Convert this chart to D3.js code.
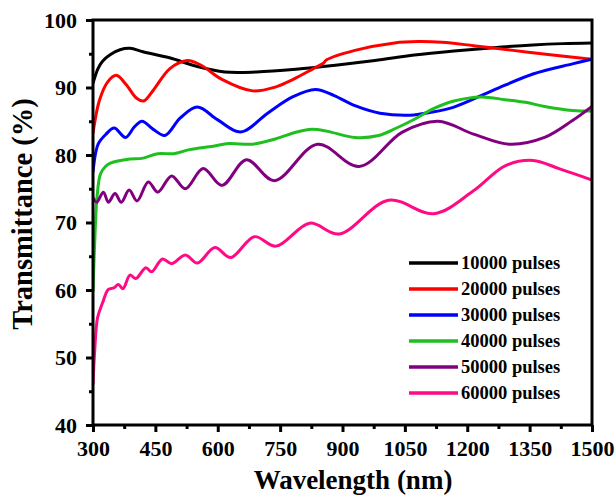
<!DOCTYPE html>
<html>
 <head>
  <title>Transmittance</title>
  <style>
  body { margin: 0; background: #fff; }
  </style>
 </head>
 <body>
  <script src="https://cdnjs.cloudflare.com/ajax/libs/d3/7.8.3/d3.min.js"></script>
  <script>
   const seriesNames = ["10000 pulses", "20000 pulses", "30000 pulses", "40000 pulses", "50000 pulses", "60000 pulses"];
   const seriesColors = ["#000000", "#ff0000", "#0000ff", "#1fbf1f", "#800080", "#ff0a84"];
   const xTicks = [300, 450, 600, 750, 900, 1050, 1200, 1350, 1500];
   const yTicks = [40, 50, 60, 70, 80, 90, 100];

   // [wavelength, transmittance]
   const s10000 = [[300,90.6],[312,92.8],[323,93.9],[342,94.9],[365,95.6],[389,95.8],[420,95.3],[484,94.4],[551,93.1],[617,92.3],[693,92.3],[788,92.7],[883,93.3],[978,94.0],[1073,94.8],[1168,95.4],[1263,95.9],[1358,96.3],[1430,96.5],[1500,96.6]];
   const s20000 = [[300,83.2],[315,88.0],[335,90.8],[356,91.8],[380,90.4],[405,88.4],[422,88.0],[445,89.6],[485,92.8],[527,94.0],[560,93.3],[610,91.2],[684,89.5],[740,90.1],[778,91.1],[830,92.8],[854,93.6],[862,94.1],[930,95.5],[1025,96.6],[1082,96.8],[1139,96.7],[1215,96.2],[1310,95.5],[1405,94.8],[1500,94.2]];
   const s30000 = [[300,77.5],[306,80.2],[313,81.7],[330,83.0],[351,84.0],[378,82.6],[400,84.2],[418,85.0],[445,83.8],[473,82.9],[510,85.5],[551,87.1],[600,85.2],[655,83.4],[720,86.2],[780,88.6],[835,89.7],[880,88.8],[930,87.3],[990,86.2],[1063,85.9],[1110,86.3],[1168,87.1],[1263,89.6],[1358,92.0],[1453,93.5],[1500,94.2]];
   const s40000 = [[300,59.8],[305,68.5],[310,74.0],[318,77.2],[330,78.3],[342,78.8],[389,79.4],[418,79.5],[456,80.2],[494,80.2],[532,80.8],[589,81.3],[627,81.7],[684,81.6],[740,82.4],[790,83.4],[826,83.8],[864,83.5],[930,82.6],[987,82.9],[1030,84.0],[1073,85.3],[1120,86.9],[1168,88.0],[1234,88.6],[1291,88.2],[1340,87.8],[1386,87.2],[1453,86.6],[1500,86.5]];
   const s50000 = [[300,73.7],[309,73.0],[325,74.5],[337,73.0],[353,74.3],[368,73.0],[387,74.8],[406,73.2],[433,76.0],[456,74.5],[489,76.9],[522,75.0],[565,78.0],[610,75.5],[669,79.3],[736,76.2],[840,81.6],[940,78.3],[1044,83.4],[1130,85.0],[1215,83.1],[1301,81.6],[1386,82.6],[1453,85.1],[1500,87.2]];
   const s60000 = [[300,46.0],[304,50.9],[311,55.9],[323,58.1],[337,60.1],[350,60.3],[361,60.8],[372,60.2],[389,62.2],[403,61.7],[427,63.3],[441,62.7],[467,64.6],[489,63.9],[522,65.2],[551,64.0],[593,66.3],[631,64.8],[688,67.9],[740,66.5],[821,69.9],[892,68.3],[1011,73.3],[1120,71.3],[1215,74.7],[1291,78.4],[1358,79.2],[1424,77.9],[1500,76.3]];
   const seriesData = [s10000, s20000, s30000, s40000, s50000, s60000];

   const w = 616, h = 495;
   const m = {top: 20, right: 24, bottom: 70, left: 93};
   const font = "'Liberation Serif', 'Times New Roman', Tinos, 'DejaVu Serif', serif";

   const svg = d3.select("body").append("svg")
                 .attr("width", w)
                 .attr("height", h)
                 .attr("font-family", font)
                 .attr("font-weight", "bold");

   const x = d3.scaleLinear().domain([300, 1500]).range([m.left, w - m.right]);
   const y = d3.scaleLinear().domain([40, 100]).range([h - m.bottom, m.top]);

   const line = d3.line()
                  .x(d => x(d[0]))
                  .y(d => y(d[1]))
                  .curve(d3.curveCatmullRom.alpha(0.5));

   svg.append("defs").append("clipPath").attr("id", "clip")
      .append("rect")
      .attr("x", m.left).attr("y", m.top)
      .attr("width", w - m.left - m.right).attr("height", h - m.top - m.bottom);

   svg.append("g").attr("clip-path", "url(#clip)")
      .selectAll("path")
      .data(seriesData)
      .enter()
      .append("path")
      .attr("d", line)
      .attr("fill", "none")
      .attr("stroke", (d, i) => seriesColors[i])
      .attr("stroke-width", 3);

   // minor ticks
   const xMinor = d3.axisBottom(x).tickValues(d3.range(375, 1500, 150)).tickSize(4).tickFormat("");
   const yMinor = d3.axisLeft(y).tickValues(d3.range(45, 100, 10)).tickSize(4).tickFormat("");
   svg.append("g").attr("transform", "translate(0," + (h - m.bottom) + ")").call(xMinor);
   svg.append("g").attr("transform", "translate(" + m.left + ",0)").call(yMinor);

   const xAxis = d3.axisBottom(x).tickValues(xTicks).tickSize(7).tickPadding(8).tickFormat(d3.format("d"));
   const yAxis = d3.axisLeft(y).tickValues(yTicks).tickSize(7).tickPadding(9);
   svg.append("g").attr("class", "xa").attr("transform", "translate(0," + (h - m.bottom) + ")").call(xAxis);
   svg.append("g").attr("class", "ya").attr("transform", "translate(" + m.left + ",0)").call(yAxis);

   svg.selectAll("g").attr("font-family", font);
   svg.selectAll(".domain").remove();
   svg.selectAll(".tick line").attr("stroke", "#000").attr("stroke-width", 3);
   svg.selectAll(".xa text, .ya text").attr("font-size", 22).attr("fill", "#000");

   svg.append("rect")
      .attr("x", m.left).attr("y", m.top)
      .attr("width", w - m.left - m.right).attr("height", h - m.top - m.bottom)
      .attr("fill", "none").attr("stroke", "#000").attr("stroke-width", 3);

   svg.append("text")
      .attr("x", 353)
      .attr("y", 489)
      .attr("text-anchor", "middle")
      .attr("font-size", 27)
      .text("Wavelength (nm)");

   svg.append("text")
      .attr("transform", "translate(32,214) rotate(-90)")
      .attr("text-anchor", "middle")
      .attr("font-size", 28.5)
      .text("Transmittance (%)");

   const legend = svg.append("g");
   const rows = legend.selectAll("g")
                      .data(seriesNames)
                      .enter()
                      .append("g")
                      .attr("transform", (d, i) => "translate(409," + (263 + i * 26) + ")");
   rows.append("line")
       .attr("x1", 0).attr("x2", 49)
       .attr("stroke", (d, i) => seriesColors[i])
       .attr("stroke-width", 3.5);
   rows.append("text")
       .attr("x", 52)
       .attr("dy", "0.35em")
       .attr("font-size", 18.5)
       .text(d => d);
  </script>
 </body>
</html>
